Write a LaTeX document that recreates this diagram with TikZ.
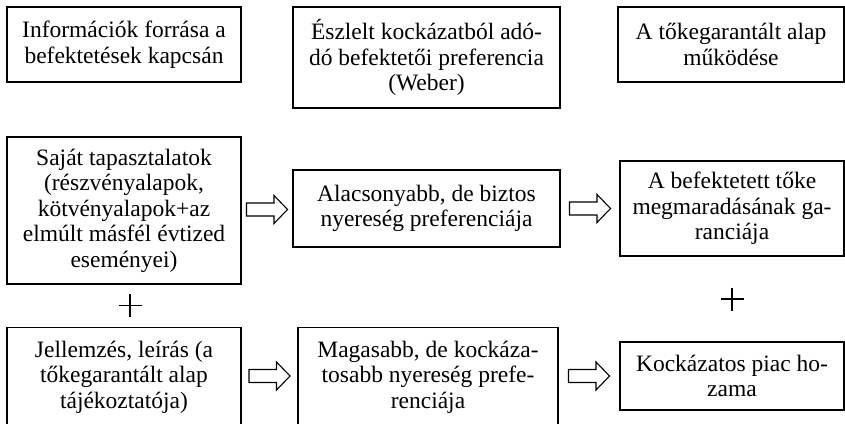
\documentclass[tikz,border=0pt]{standalone}
\usepackage{fontspec}
\setmainfont{Liberation Serif}
\usetikzlibrary{calc}
\tikzset{
  box/.style={draw, line width=1.1pt, align=center, inner sep=0pt, font=\fontsize{23.5}{25.5}\selectfont},
  txt/.style={align=center, inner sep=0pt, font=\fontsize{23.5}{25.5}\selectfont},
  plusline/.style={line width=1.3pt},
  harrow/.style={line width=1.1pt, line join=miter}
}
\newcommand{\hollowarrow}[1]{%
  \draw[harrow] ($(#1)+(-20.5,-6.5)$) -- ($(#1)+(7,-6.5)$) -- ($(#1)+(7,-14)$) -- ($(#1)+(20.5,0)$)
    -- ($(#1)+(7,14)$) -- ($(#1)+(7,6.5)$) -- ($(#1)+(-20.5,6.5)$) -- cycle;}
\newcommand{\plussign}[1]{%
  \draw[plusline] ($(#1)+(-11.5,0)$) -- ($(#1)+(11.5,0)$);
  \draw[plusline] ($(#1)+(0,-11.5)$) -- ($(#1)+(0,11.5)$);}
\begin{document}
\begin{tikzpicture}[x=1pt,y=-1pt]
\useasboundingbox (0,0) rectangle (845,423);
\fill[white] (0,0) rectangle (845,423);
\clip (0,0) rectangle (845,423);
% top row
\node[box, minimum width=234, minimum height=75] (b1) at (124,44.5)
  {Információk forrása a\\befektetések kapcsán};
\node[box, minimum width=267, minimum height=101] (b2) at (426.5,57.5)
  {Észlelt kockázatból adó-\\dó befektetői preferencia\\(Weber)};
\node[box, minimum width=226, minimum height=75] (b3) at (731,44.5)
  {A tőkegarantált alap\\működése};
% middle row
\node[box, minimum width=234, minimum height=147] (b4) at (124,210.5)
  {Saját tapasztalatok\\(részvényalapok,\\kötvényalapok+az\\elmúlt másfél évtized\\eseményei)};
\node[box, minimum width=267, minimum height=77] (b5) at (426.5,208.5)
  {Alacsonyabb, de biztos\\nyereség preferenciája};
\node[box, minimum width=224, minimum height=95] (b6) at (732,208.5)
  {A befektetett tőke\\megmaradásának ga-\\ranciája};
% bottom row
\node[box, minimum width=234, minimum height=113, anchor=north] (b7) at (124,327) {};
\node[txt] (t7) at (124,377) {Jellemzés, leírás (a\\tőkegarantált alap\\tájékoztatója)};
\node[box, minimum width=260, minimum height=113, anchor=north] (b8) at (428,327) {};
\node[txt] (t8) at (428,377) {Magasabb, de kockáza-\\tosabb nyereség prefe-\\renciája};
\node[box, minimum width=224, minimum height=68] (b9) at (732,376)
  {Kockázatos piac ho-\\zama};
% arrows
\coordinate (a1) at ($(b4.east)!0.5!(b5.west)$);
\coordinate (a2) at ($(b5.east)!0.5!(b6.west)$);
\coordinate (a3) at ($(b7.east |- b9)!0.5!(b8.west |- b9)$);
\coordinate (a4) at ($(b8.east |- b9)!0.5!(b9.west)$);
\hollowarrow{a1}
\hollowarrow{a2}
\hollowarrow{a3}
\hollowarrow{a4}
% plus signs
\coordinate (p1) at ($($(b4.south)!0.5!(b7.north)$)+(6,0)$);
\coordinate (p2) at ($(b6.south)!0.5!(b9.north)$);
\plussign{p1}
\plussign{p2}
\end{tikzpicture}
\end{document}
